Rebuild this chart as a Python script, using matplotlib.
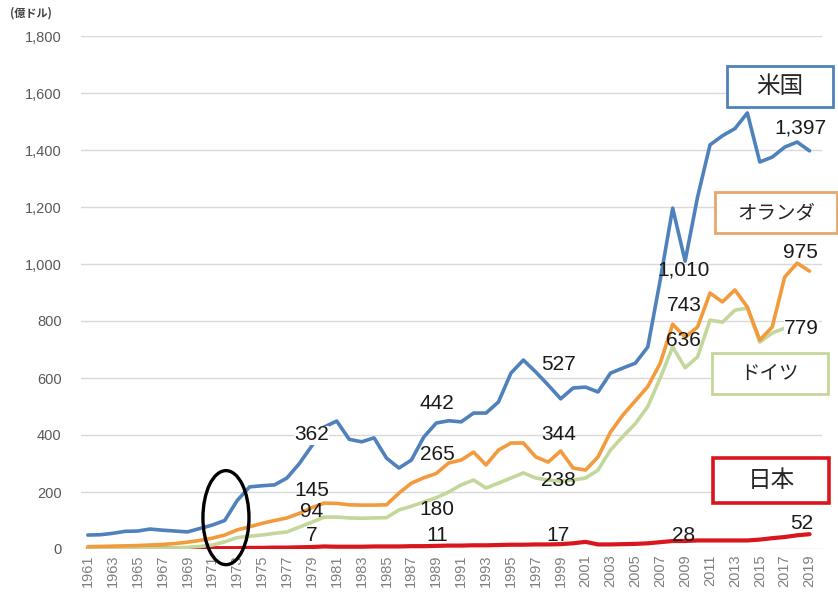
import matplotlib.pyplot as plt
from matplotlib.patches import Ellipse
import numpy as np

plt.rcParams["font.family"] = ["Liberation Sans", "Noto Sans CJK JP", "DejaVu Sans"]

# ----- データ（億ドル） -----
years = list(range(1961, 2020))

usa = [49, 50, 55, 62, 63, 70, 66, 63, 60, 72,
       84, 100, 170, 218, 222, 225, 249, 300, 362, 428,
       449, 385, 376, 390, 319, 284, 312, 393, 442, 450,
       446, 477, 477, 516, 617, 663, 621, 575, 527, 565,
       568, 551, 617, 635, 652, 709, 944, 1196, 1010, 1235,
       1418, 1450, 1475, 1530, 1358, 1375, 1410, 1428, 1397]

netherlands = [8, 9, 10, 11, 12, 14, 16, 19, 24, 30,
               38, 49, 67, 78, 90, 100, 109, 125, 145, 161,
               160, 155, 154, 154, 155, 196, 231, 250, 265, 302,
               312, 340, 295, 347, 372, 372, 323, 305, 344, 284,
               277, 323, 410, 470, 520, 570, 652, 789, 743, 779,
               898, 867, 909, 849, 733, 779, 954, 1003, 975]

germany = [1, 1, 1, 1, 2, 2, 3, 4, 6, 9,
           14, 25, 40, 45, 49, 55, 60, 77, 94, 112,
           112, 109, 108, 109, 110, 137, 150, 165, 180, 200,
           225, 242, 214, 231, 249, 267, 249, 242, 238, 242,
           249, 277, 347, 395, 440, 500, 600, 709, 636, 674,
           803, 796, 838, 845, 726, 758, 775, 790, 779]

japan = [1, 1, 1, 1, 1, 2, 2, 2, 2, 2,
         3, 3, 3, 4, 4, 5, 5, 6, 7, 9,
         8, 8, 8, 9, 9, 9, 10, 10, 11, 12,
         12, 13, 13, 14, 15, 15, 16, 16, 17, 20,
         25, 16, 16, 17, 18, 20, 24, 28, 28, 30,
         30, 30, 30, 30, 33, 38, 42, 48, 52]

label_years = [1979, 1989, 1999, 2009, 2019]

series = [
    ("米国", usa, "#4f81bd", 2.6),
    ("オランダ", netherlands, "#f39a3c", 2.6),
    ("ドイツ", germany, "#c4d79b", 2.6),
    ("日本", japan, "#d9161c", 3.0),
]

# 数値ラベルの位置（データ座標）
label_pos = {
    "米国": [(1979.0, 400), (1989.05, 512), (1998.8, 646), (2008.9, 979), (2018.3, 1477)],
    "オランダ": [(1979.0, 207), (1989.05, 330), (1998.8, 400), (2008.9, 856), (2018.3, 1039)],
    "ドイツ": [(1979.0, 130), (1989.05, 137), (1998.8, 242), (2008.9, 733), (2018.35, 775)],
    "日本": [(1979.0, 49), (1989.05, 49), (1998.8, 49), (2008.9, 49), (2018.35, 91)],
}
# 線の上に白抜きで置くラベル
masked = {("米国", 1979), ("ドイツ", 2019)}

fig = plt.figure(figsize=(8.38, 5.93), dpi=100)
ax = fig.add_axes([81 / 838, 44 / 593, 741 / 838, 513 / 593])

for name, vals, col, lw in series[::-1]:
    ax.plot(years, vals, color=col, lw=lw, solid_capstyle="round", zorder=3)

for name, vals, col, lw in series:
    for yr, (lx, ly) in zip(label_years, label_pos[name]):
        v = vals[years.index(yr)]
        bb = dict(fc="white", ec="none", pad=0) if (name, yr) in masked else None
        ax.text(lx, ly, f"{v:,}", ha="center", va="center", fontsize=15,
                color="#1a1a1a", zorder=5, bbox=bb)

ax.set_xlim(1960.45, 2020.0)
ax.set_ylim(0, 1800)
ax.set_yticks(np.arange(0, 1801, 200))
ax.set_yticklabels([f"{t:,}" for t in range(0, 1801, 200)])
ax.set_xticks(years[::2])
ax.set_xticklabels([str(y) for y in years[::2]], rotation=90)
ax.tick_params(axis="both", length=0)
ax.tick_params(axis="y", labelsize=10.5, colors="#595959", pad=14)
ax.tick_params(axis="x", labelsize=10.5, colors="#7f7f7f", pad=4)
ax.grid(axis="y", color="#d9d9d9", lw=1)
ax.set_axisbelow(True)
for s in ax.spines.values():
    s.set_visible(False)

# 1971-73 の楕円
ell = Ellipse((1972.1, 110), 3.7, 330, fill=False, ec="black", lw=2.4,
              clip_on=False, zorder=6)
ax.add_patch(ell)

# 国名ボックス
boxes = [
    ("米国", 727, 66, 106, 41, "#4f81bd", 2.0, 17),
    ("オランダ", 715, 192, 122, 41, "#e6a86a", 2.0, 14),
    ("ドイツ", 712, 353, 116, 41, "#c4d79b", 2.0, 14),
    ("日本", 713, 458, 116, 45, "#d9161c", 2.6, 17),
]
for txt, bx, by, bw, bh, ec, lw, fs in boxes:
    r = plt.Rectangle((bx / 838, 1 - (by + bh) / 593), bw / 838, bh / 593,
                      transform=fig.transFigure, fill=True, fc="white", ec=ec,
                      lw=lw, zorder=7)
    fig.add_artist(r)
    fig.text((bx + bw / 2) / 838, 1 - (by + bh / 2) / 593, txt,
             ha="center", va="center", fontsize=fs, color="#262626",
             family=["Noto Sans CJK JP", "DejaVu Sans"], zorder=8)

fig.text(10 / 838, 1 - 13 / 593, "(億ドル)", ha="left", va="center", fontsize=8,
         fontweight="bold", color="#404040",
         family=["Noto Sans CJK JP", "DejaVu Sans"])

fig.savefig("out.png", dpi=100)
